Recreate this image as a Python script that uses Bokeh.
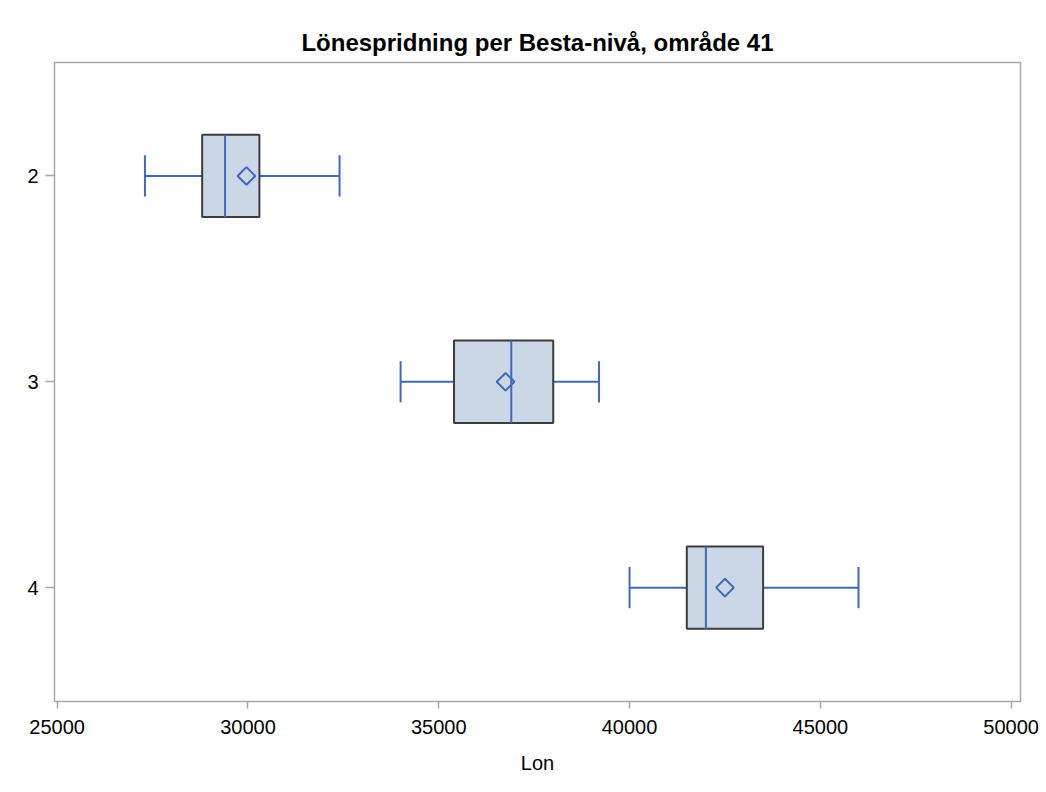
from bokeh.plotting import figure
from bokeh.models import Range1d, FixedTicker, ColumnDataSource
from bokeh.embed import file_html
from bokeh.resources import INLINE

# ---- data ----
categories = ["2", "3", "4"]
whisker_low = [27300, 34000, 40000]
q1 = [28800, 35400, 41500]
median = [29400, 36900, 42000]
mean = [29960, 36750, 42500]
q3 = [30300, 38000, 43500]
whisker_high = [32400, 39200, 46000]
x_ticks = [25000, 30000, 35000, 40000, 45000, 50000]

ypos = [float(c) for c in categories]
box_h = 0.4
cap_h = 0.2

src = ColumnDataSource(dict(
    y=ypos, lo=whisker_low, q1=q1, med=median, mean=mean, q3=q3, hi=whisker_high,
    y_top=[v - box_h / 2 for v in ypos], y_bot=[v + box_h / 2 for v in ypos],
    c_top=[v - cap_h / 2 for v in ypos], c_bot=[v + cap_h / 2 for v in ypos],
))

FONT = "Liberation Sans"
BLUE = "#4068B8"
FILL = "#CBD6E7"
EDGE = "#3C3C3C"
GRID = "#A8A8A8"

p = figure(width=1044, height=790, output_backend="svg", toolbar_location=None,
           x_range=Range1d(24930, 50245), y_range=Range1d(4.553, 1.449),
           min_border_left=54, min_border_right=24, min_border_top=62, min_border_bottom=89,
           title="Lönespridning per Besta-nivå, område 41")

p.title.align = "center"
p.title.text_font = FONT
p.title.text_font_size = "24px"
p.title.text_font_style = "bold"
p.title.text_color = "#000000"
p.title.standoff = 14

p.xgrid.visible = False
p.ygrid.visible = False
p.outline_line_color = GRID
p.outline_line_width = 1.5

# whiskers
p.segment(x0="lo", y0="y", x1="q1", y1="y", source=src, line_color=BLUE, line_width=2)
p.segment(x0="q3", y0="y", x1="hi", y1="y", source=src, line_color=BLUE, line_width=2)
p.segment(x0="lo", y0="c_top", x1="lo", y1="c_bot", source=src, line_color=BLUE, line_width=2)
p.segment(x0="hi", y0="c_top", x1="hi", y1="c_bot", source=src, line_color=BLUE, line_width=2)
# boxes
p.hbar(y="y", left="q1", right="q3", height=box_h, source=src,
       fill_color=FILL, line_color=EDGE, line_width=2)
# median
p.segment(x0="med", y0="y_top", x1="med", y1="y_bot", source=src, line_color=BLUE, line_width=2)
# mean diamond
p.scatter(x="mean", y="y", source=src, marker="square", angle=0.785398, size=12.5,
          fill_alpha=0, line_color=BLUE, line_width=2)

# axes
xa = p.xaxis[0]
xa.ticker = FixedTicker(ticks=x_ticks)
xa.axis_label = "Lon"
xa.axis_label_text_font = FONT
xa.axis_label_text_font_size = "20px"
xa.axis_label_text_font_style = "normal"
xa.axis_label_text_color = "#000000"
xa.axis_label_standoff = 15
xa.major_label_text_font = FONT
xa.major_label_text_font_size = "20px"
xa.major_label_text_color = "#000000"
xa.major_label_standoff = 11
xa.major_tick_in = 0
xa.major_tick_out = 7
xa.minor_tick_in = 0
xa.minor_tick_out = 0
xa.major_tick_line_color = GRID
xa.major_tick_line_width = 1.5
xa.axis_line_color = None

ya = p.yaxis[0]
ya.ticker = FixedTicker(ticks=ypos)
ya.major_label_overrides = {float(c): c for c in categories}
ya.major_label_text_font = FONT
ya.major_label_text_font_size = "20px"
ya.major_label_text_color = "#000000"
ya.major_label_standoff = 7
ya.major_tick_in = 0
ya.major_tick_out = 9
ya.minor_tick_in = 0
ya.minor_tick_out = 0
ya.major_tick_line_color = GRID
ya.major_tick_line_width = 1.5
ya.axis_line_color = None

open("out.html", "w").write(file_html(p, INLINE))
